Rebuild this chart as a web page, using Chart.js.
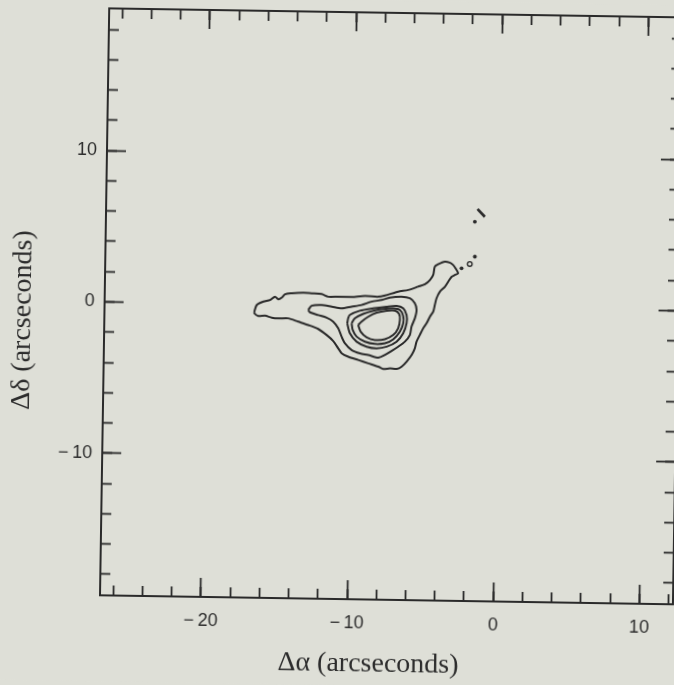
<!DOCTYPE html>
<html>
<head>
<meta charset="utf-8">
<title>Contour map</title>
<script src="https://cdn.jsdelivr.net/npm/chart.js@4.4.1/dist/chart.umd.min.js"></script>
<style>
  html, body { margin: 0; padding: 0; width: 674px; height: 685px; overflow: hidden; background: #dedfd7; }
  #wrap { position: absolute; left: 0; top: 0; width: 684px; height: 685px;
          transform: rotate(0.9deg); transform-origin: 337px 342.5px; }
  canvas { display: block; background: #dedfd7; }
</style>
</head>
<body>
<div id="wrap"><canvas id="map" width="684" height="685"></canvas></div>
<script>
// Axis extents (arcseconds)
const xRange = [-26.9, 12.3];
const yRange = [-19.4, 19.4];

// Tick positions
const xMajorTicks = [-20, -10, 0, 10];
const xMinorTicks = [-26, -24, -22, -20, -18, -16, -14, -12, -10, -8, -6, -4, -2, 0, 2, 4, 6, 8, 10, 12];
const yMajorTicks = [-10, 0, 10];
const yMinorTicks = [-18, -16, -14, -12, -10, -8, -6, -4, -2, 0, 2, 4, 6, 8, 10, 12, 14, 16, 18];

// Axis titles
const xTitle = 'Δα (arcseconds)';
const yTitle = 'Δδ (arcseconds)';

// Contour levels, outermost first: [Δα, Δδ]
const contourLevel1 = [
  [-16.65,-0.50],[-16.49,-0.05],[-16.04,0.18],[-15.59,0.29],[-15.25,0.52],[-15.02,0.35],[-14.79,0.46],
  [-14.57,0.69],[-14.11,0.76],[-13.32,0.81],[-12.75,0.78],[-12.06,0.74],[-11.61,0.57],[-10.92,0.58],
  [-10.01,0.58],[-9.10,0.66],[-8.19,0.62],[-7.73,0.71],[-6.83,0.98],[-6.15,1.10],[-5.47,1.33],
  [-5.01,1.49],[-4.67,1.78],[-4.45,2.12],[-4.35,2.67],[-4.12,2.83],[-3.67,3.01],[-3.33,2.95],
  [-3.10,2.80],[-2.93,2.58],[-2.75,2.25],[-2.97,2.14],[-3.19,2.02],[-3.42,1.69],[-3.64,1.35],
  [-3.98,1.02],[-4.20,0.58],[-4.31,0.13],[-4.41,-0.31],[-4.63,-0.64],[-4.85,-1.08],[-5.08,-1.42],
  [-5.30,-1.86],[-5.52,-2.31],[-5.63,-2.75],[-5.84,-3.19],[-6.18,-3.64],[-6.52,-3.98],[-6.85,-4.13],
  [-7.31,-4.10],[-7.77,-4.15],[-8.11,-4.00],[-8.80,-3.79],[-9.49,-3.58],[-10.18,-3.37],[-10.63,-3.15],
  [-10.87,-2.83],[-11.22,-2.35],[-11.68,-1.96],[-12.26,-1.57],[-12.94,-1.32],[-13.63,-1.11],
  [-14.32,-0.90],[-15.00,-0.91],[-15.45,-0.87],[-15.91,-0.75],[-16.37,-0.78],[-16.64,-0.60]
];
const contourLevel2 = [
  [-12.96,-0.33],[-12.73,-0.04],[-12.05,0.02],[-11.36,-0.08],[-10.68,-0.18],[-10.00,-0.06],[-9.32,0.06],
  [-8.64,0.29],[-7.95,0.41],[-7.39,0.58],[-6.59,0.65],[-6.02,0.55],[-5.68,0.23],[-5.55,-0.21],
  [-5.66,-0.77],[-5.88,-1.32],[-5.98,-1.87],[-6.32,-2.32],[-6.77,-2.66],[-7.22,-2.95],[-7.67,-3.22],
  [-8.12,-3.41],[-8.81,-3.24],[-9.38,-3.14],[-9.95,-2.93],[-10.42,-2.49],[-10.65,-2.06],[-10.89,-1.51],
  [-11.24,-1.07],[-11.69,-0.82],[-12.27,-0.65],[-12.84,-0.48]
];
const contourLevel3 = [
  [-10.28,-1.17],[-10.22,-0.83],[-10.11,-0.61],[-9.43,-0.32],[-8.52,-0.15],[-7.61,-0.03],[-6.92,0.03],
  [-6.47,-0.12],[-6.23,-0.56],[-6.22,-1.10],[-6.44,-1.77],[-6.88,-2.33],[-7.56,-2.67],[-8.24,-2.79],
  [-8.93,-2.69],[-9.62,-2.37],[-10.09,-1.82]
];
const contourLevel4 = [
  [-9.98,-1.16],[-9.76,-0.83],[-9.20,-0.53],[-8.52,-0.31],[-7.84,-0.18],[-7.15,-0.13],[-6.69,-0.23],
  [-6.46,-0.63],[-6.45,-1.11],[-6.67,-1.67],[-7.12,-2.18],[-7.68,-2.45],[-8.37,-2.50],[-9.05,-2.36],
  [-9.62,-2.04],[-9.90,-1.60]
];
const contourLevel5 = [
  [-9.53,-1.27],[-9.30,-1.04],[-8.85,-0.71],[-8.28,-0.43],[-7.60,-0.29],[-7.03,-0.28],[-6.74,-0.50],
  [-6.68,-0.89],[-6.79,-1.44],[-7.12,-1.89],[-7.69,-2.18],[-8.37,-2.24],[-8.94,-2.07],[-9.35,-1.71]
];

// Small isolated features north-east of the source
const knots = [[-2.52, 2.59], [-1.62, 3.37], [-1.66, 5.68]];
const tinyLoop = [[-1.96, 2.88]];
const northStreak = [[-1.49, 6.52], [-0.98, 6.02]];

const INK = '#2a2a2a';
const tickFont = { family: '"Liberation Sans", Arial, sans-serif', size: 18 };

const toPoints = pts => pts.map(([x, y]) => ({ x, y }));
const closed = pts => toPoints(pts.concat([pts[0]]));
const fmt = v => (v < 0 ? '\u2212\u2009' + Math.abs(v) : String(v));

// One frame side: border, inward tick marks of a given length, optional labels
function frameAxis(position, range, tickValues, tickLen, opts) {
  const horizontal = position === 'top' || position === 'bottom';
  return {
    type: 'linear',
    position,
    min: range[0],
    max: range[1],
    bounds: 'data',
    weight: opts.weight || 0,
    display: true,
    grid: {
      display: true,
      drawOnChartArea: false,
      drawTicks: true,
      tickLength: -tickLen,
      tickColor: INK,
      tickWidth: 1.8
    },
    border: { display: !!opts.border, color: INK, width: 2 },
    ticks: {
      display: !!opts.labels,
      autoSkip: false,
      padding: opts.padding || 0,
      color: '#2c2c2c',
      font: tickFont,
      callback: v => fmt(v)
    },
    afterBuildTicks: s => { s.ticks = tickValues.map(v => ({ value: v })); },
    afterFit: s => {
      if (horizontal) s.height = opts.size || 0;
      else s.width = opts.size || 0;
      // the frame is fixed; labels may not push the plot area around
      s.paddingTop = 0; s.paddingBottom = 0; s.paddingLeft = 0; s.paddingRight = 0;
    }
  };
}

// Axis titles, set slightly off-centre like the printed figure
const axisTitles = {
  id: 'axisTitles',
  afterDraw(chart) {
    const { ctx, chartArea: a } = chart;
    ctx.save();
    ctx.fillStyle = '#2c2c2c';
    ctx.font = '28px "Liberation Serif", "Times New Roman", serif';
    ctx.textAlign = 'center';
    ctx.textBaseline = 'middle';
    ctx.fillText(xTitle, a.left + 269, a.bottom + 65);
    ctx.translate(a.left - 81.5, a.top + 313);
    ctx.rotate(-Math.PI / 2);
    ctx.fillText(yTitle, 0, 0);
    ctx.restore();
  }
};

const contourStyle = {
  showLine: true,
  pointRadius: 0,
  borderColor: INK,
  borderWidth: 2,
  tension: 0.25,
  fill: false
};

new Chart(document.getElementById('map'), {
  type: 'scatter',
  data: {
    datasets: [
      { label: 'level 1', data: closed(contourLevel1), ...contourStyle },
      { label: 'level 2', data: closed(contourLevel2), ...contourStyle },
      { label: 'level 3', data: closed(contourLevel3), ...contourStyle },
      { label: 'level 4', data: closed(contourLevel4), ...contourStyle },
      { label: 'level 5', data: closed(contourLevel5), ...contourStyle },
      { label: 'knots', data: toPoints(knots), showLine: false, pointRadius: 1.9,
        pointBackgroundColor: INK, pointBorderWidth: 0 },
      { label: 'loop', data: toPoints(tinyLoop), showLine: false, pointRadius: 2.3,
        pointBackgroundColor: 'rgba(0,0,0,0)', pointBorderColor: INK, pointBorderWidth: 1.4 },
      { label: 'streak', data: toPoints(northStreak), showLine: true, pointRadius: 0,
        borderColor: INK, borderWidth: 2.8 }
    ]
  },
  options: {
    responsive: false,
    animation: false,
    devicePixelRatio: 1,
    layout: { padding: { top: 12, right: 7, bottom: 0, left: 0 } },
    plugins: { legend: { display: false }, tooltip: { enabled: false } },
    scales: {
      x:       frameAxis('bottom', xRange, xMajorTicks, 19, { labels: true, border: true, padding: 32, size: 86, weight: 1 }),
      xMinor:  frameAxis('bottom', xRange, xMinorTicks, 10, { weight: 0 }),
      xTop:    frameAxis('top',    xRange, xMajorTicks, 19, { border: true, weight: 1 }),
      xTopMin: frameAxis('top',    xRange, xMinorTicks, 10, { weight: 0 }),
      y:       frameAxis('left',   yRange, yMajorTicks, 19, { labels: true, border: true, padding: 29, size: 104, weight: 1 }),
      yMinor:  frameAxis('left',   yRange, yMinorTicks, 10, { weight: 0 }),
      yRight:  frameAxis('right',  yRange, yMajorTicks, 19, { border: true, weight: 1 }),
      yRtMin:  frameAxis('right',  yRange, yMinorTicks, 10, { weight: 0 })
    }
  },
  plugins: [axisTitles]
});
</script>
</body>
</html>
